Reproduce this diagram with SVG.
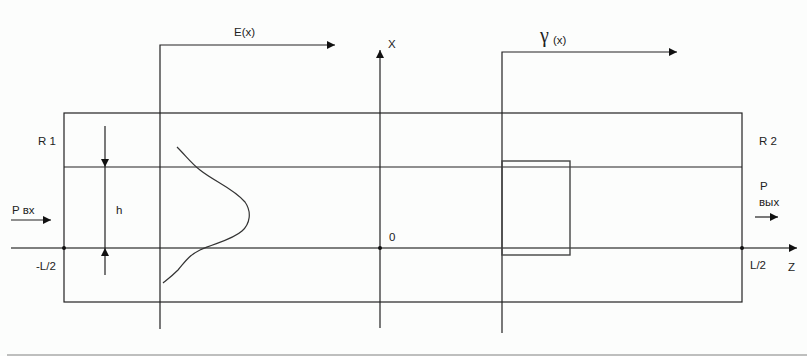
<svg xmlns="http://www.w3.org/2000/svg" width="807" height="356" viewBox="0 0 807 356">
<defs>
<marker id="ah" viewBox="0 0 10 10" refX="10" refY="5" markerWidth="9" markerHeight="8" markerUnits="userSpaceOnUse" orient="auto"><path d="M0,0 L10,5 L0,10 z" fill="#111"/></marker>
<style>
.l{stroke:#222;stroke-width:1.2;fill:none}
.g{stroke:#555;stroke-width:1.6;fill:none}
.t{font-family:"Liberation Sans",Arial,sans-serif;font-size:11.5px;fill:#222}
</style>
</defs>
<rect width="807" height="356" fill="#fcfdfc"/>
<line x1="7" y1="355" x2="807" y2="355" stroke="#aaa" stroke-width="1.5"/>
<g id="waveguide">
<rect x="64" y="113" width="678" height="189" class="l"/>
<line x1="64" y1="167" x2="742" y2="167" class="l"/>
</g>
<g id="connectors">
<line x1="11" y1="248" x2="797" y2="248" class="g" marker-end="url(#ah)"/>
<line x1="380" y1="328" x2="380" y2="50" class="l" marker-end="url(#ah)"/>
<polyline points="160,329 160,45 335,45" class="l" marker-end="url(#ah)"/>
<polyline points="502,333 502,52 677,52" class="l" marker-end="url(#ah)"/>
<line x1="105" y1="126" x2="105" y2="167" class="l" marker-end="url(#ah)"/>
<line x1="105" y1="167" x2="105" y2="248" class="l"/>
<line x1="105" y1="275" x2="105" y2="248" class="l" marker-end="url(#ah)"/>
<line x1="11" y1="220" x2="51" y2="220" class="l" marker-end="url(#ah)"/>
<line x1="755" y1="217" x2="778" y2="217" class="l" marker-end="url(#ah)"/>
</g>
<g id="profile">
<path d="M177,147 C186,156 192,164 200,170 C215,182 233,188 245,202 C252,212 250,224 242,231 C232,240 215,243 200,250 C188,256 185,262 178,270 C172,276 168,279 163,283" fill="none" stroke="#333" stroke-width="1.2"/>
</g>
<g id="gamma-box">
<rect x="502" y="161" width="68" height="94" fill="none" stroke="#444" stroke-width="1.4"/>
</g>
<g id="dots" fill="#111">
<circle cx="64" cy="248" r="2"/>
<circle cx="742" cy="248" r="2"/>
<circle cx="380" cy="248" r="2"/>
</g>
<g id="labels">
<text class="t" x="234" y="36">E(x)</text>
<text class="t" x="388" y="48">X</text>
<text x="540" y="42" font-family="Liberation Serif,serif" font-size="20" fill="#222">γ</text>
<text class="t" x="553" y="44">(x)</text>
<text class="t" x="38" y="145">R 1</text>
<text class="t" x="116" y="214">h</text>
<text class="t" x="12" y="214">P вх</text>
<text class="t" x="36" y="270">-L/2</text>
<text class="t" x="389" y="241">0</text>
<text class="t" x="759" y="145">R 2</text>
<text class="t" x="760" y="190">P</text>
<text class="t" x="759" y="206">вых</text>
<text class="t" x="750" y="269">L/2</text>
<text class="t" x="788" y="271">Z</text>
</g>
</svg>
